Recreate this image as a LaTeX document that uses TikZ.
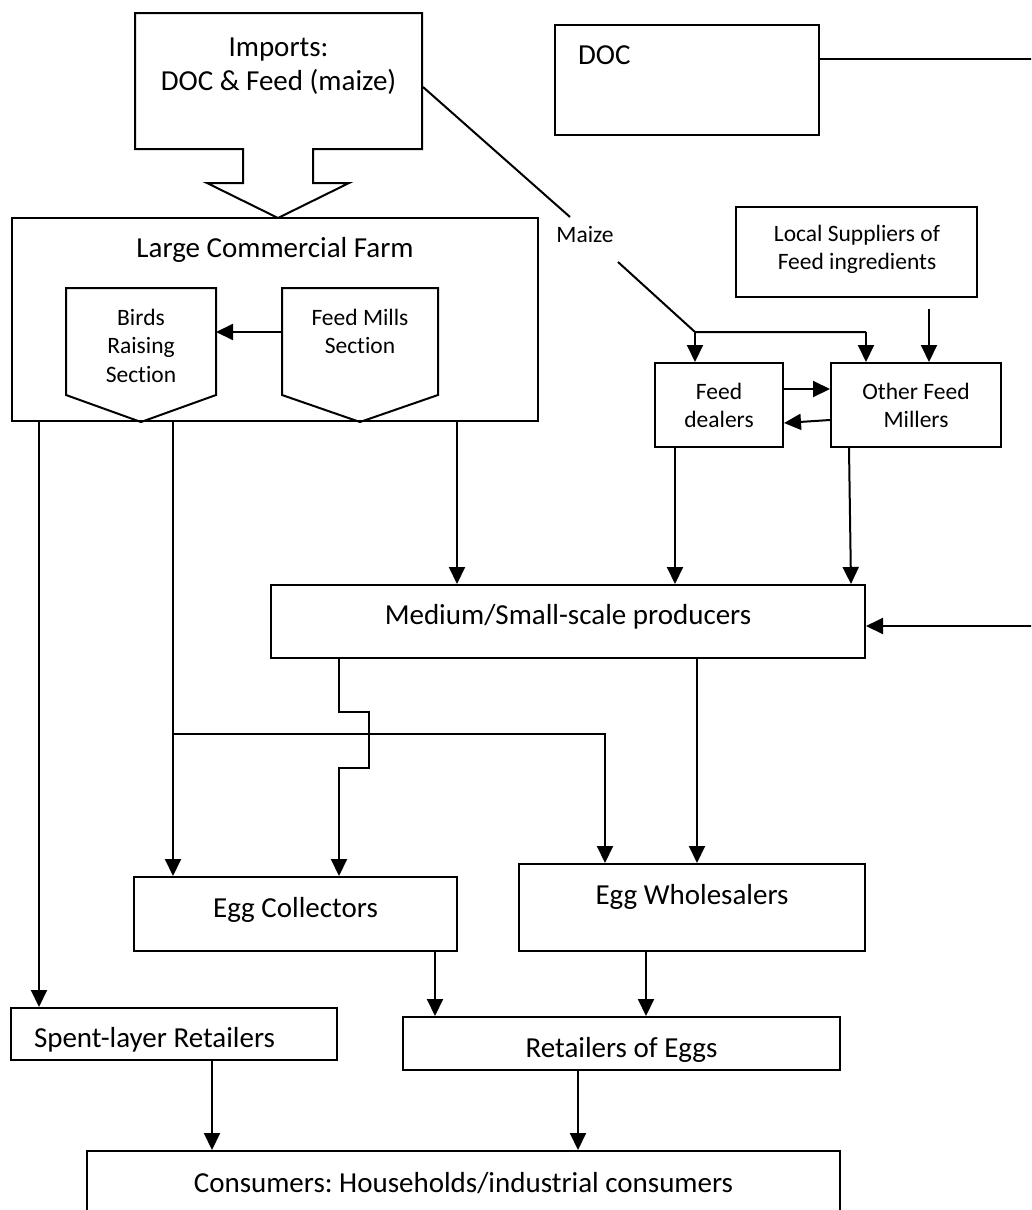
\documentclass[tikz,border=0pt]{standalone}
\usepackage{fontspec}
\setmainfont[Ligatures={NoCommon}]{Carlito}
\usetikzlibrary{arrows.meta,calc}
\newcommand{\mlines}[1]{\begin{tabular}[t]{@{}c@{}}#1\end{tabular}}
\begin{document}
\frenchspacing
\begin{tikzpicture}[x=1pt,y=-1pt,line width=2pt,
  box/.style={draw,line width=2pt,inner sep=0pt,rectangle},
  ghost/.style={inner sep=0pt,rectangle},
  big/.style={font=\fontsize{29}{34.5}\selectfont,inner sep=0pt,anchor=base},
  small/.style={font=\fontsize{23.5}{28.5}\selectfont,inner sep=0pt,anchor=base},
  arr/.style={-{Triangle[width=16pt,length=17pt]},line width=2pt},
  con/.style={line width=2pt}]
\useasboundingbox (0,0) rectangle (1031,1210);
\fill[white] (0,0) rectangle (1031,1210);
\clip (0,0) rectangle (1031,1210);

% Imports callout
\node[ghost,minimum width=287pt,minimum height=136pt] (imp) at (278.5,81) {};
\draw[con] (135,13) -- (422,13) -- (422,149) -- (313,149) -- (313,183) -- (349,183)
  -- (278,218) -- (207,183) -- (243,183) -- (243,149) -- (135,149) -- cycle;
\node[big] (imp-t) at (278.5,56) {\mlines{Imports:\\DOC \& Feed (maize)}};

% DOC
\node[box,minimum width=264pt,minimum height=110pt] (doc) at (687,80) {};
\node[big,anchor=base west] (doc-t) at (577,64) {DOC};

% Large commercial farm
\node[box,minimum width=526pt,minimum height=203pt] (farm) at (275,319.5) {};
\node[big] (farm-t) at (275,257) {Large Commercial Farm};
\node[ghost,minimum width=148pt,minimum height=105pt] (birds) at (141,341.5) {};
\draw[con] (birds.south west) -- (birds.north west) -- (birds.north east) -- (birds.south east)
  -- ($(birds.south)+(0,27)$) -- cycle;
\node[small] (birds-t) at (141,325) {\mlines{Birds\\Raising\\Section}};
\node[ghost,minimum width=154pt,minimum height=105pt] (fmill) at (360,341.5) {};
\draw[con] (fmill.south west) -- (fmill.north west) -- (fmill.north east) -- (fmill.south east)
  -- ($(fmill.south)+(0,27)$) -- cycle;
\node[small] (fmill-t) at (360,325) {\mlines{Feed Mills\\Section}};
\draw[arr] ([yshift=9.5pt]fmill.west) -- ([yshift=9.5pt]birds.east);

% Feed side
\node[box,minimum width=241pt,minimum height=90pt] (local) at (856.5,252) {};
\node[small] (local-t) at (857,241) {\mlines{Local Suppliers of\\Feed ingredients}};
\node[box,minimum width=128pt,minimum height=84pt] (fd) at (719,405) {};
\node[small] (fd-t) at (719,399) {\mlines{Feed\\dealers}};
\node[box,minimum width=170pt,minimum height=84pt] (ofm) at (916,405) {};
\node[small] (ofm-t) at (916,399) {\mlines{Other Feed\\Millers}};

% Maize line
\node[small] (maize) at (585,242) {Maize};
\coordinate (m1) at (570,217);
\coordinate (m2) at (618,262);
\coordinate (j) at (695,332);
\coordinate (j2) at (866,332);
\draw[con] ([yshift=-6pt]imp.east) -- (m1);
\draw[con] (m2) -- (j) -- (j2);
\draw[arr] (j) -- (j |- fd.north);
\draw[arr] (j2) -- (j2 |- ofm.north);
\coordinate (ls) at ($(local.south)+(72.5,11)$);
\draw[arr] (ls) -- (ls |- ofm.north);
\draw[arr] ([yshift=16pt]fd.east) -- ([yshift=16pt]ofm.west);
\draw[arr] ([yshift=-15pt]ofm.west) -- ([yshift=-18pt]fd.east);

% Medium producers
\node[box,minimum width=594pt,minimum height=73pt] (med) at (568,621.5) {};
\node[big] (med-t) at (568,624) {Medium/Small-scale producers};

% DOC connector
\coordinate (e1) at (1045,59);
\draw[arr] ([yshift=21pt]doc.east) -- (e1) |- ([yshift=-4.5pt]med.east);

% Down from farm / feed
\coordinate (f1) at ([xshift=-236pt]farm.south);
\coordinate (f2) at ([xshift=-102pt]farm.south);
\coordinate (f3) at ([xshift=182pt]farm.south);
\coordinate (d1) at ([xshift=-44pt]fd.south);
\coordinate (o1) at ([xshift=-67pt]ofm.south);
\draw[arr] (f3) -- (f3 |- med.north);
\draw[arr] (d1) -- (d1 |- med.north);
\draw[arr] (o1) -- ($(o1 |- med.north)+(2,0)$);

% Egg boxes
\node[box,minimum width=323pt,minimum height=74pt] (col) at (295.5,914) {};
\node[big] (col-t) at (295.5,917) {Egg Collectors};
\node[box,minimum width=346pt,minimum height=87pt] (whl) at (692,907.5) {};
\node[big] (whl-t) at (692,904) {Egg Wholesalers};

\draw[arr] (f2) -- (f2 |- col.north);
\coordinate (w1) at ([xshift=-87pt]whl.north);
\coordinate (w2) at ([xshift=5pt]whl.north);
\draw[arr] ($(f2)+(0,312)$) -| (w1);
\draw[arr] (w2 |- med.south) -- (w2);
\coordinate (ma) at ([xshift=-229pt]med.south);
\draw[arr] (ma) -- ++(0,53) -- ++(30,0) -- ++(0,56) -- ++(-30,0) -- (ma |- col.north);

% Retail level
\node[box,minimum width=326pt,minimum height=52pt] (spent) at (174,1034) {};
\node[big,anchor=base west] (spent-t) at (33,1047) {Spent-layer Retailers};
\node[box,minimum width=437pt,minimum height=53pt] (ret) at (621.5,1043.5) {};
\node[big] (ret-t) at (621.5,1057) {Retailers of Eggs};
\draw[arr] (f1) -- (f1 |- spent.north);
\coordinate (c1) at ([xshift=139.5pt]col.south);
\coordinate (h1) at ([xshift=-46pt]whl.south);
\draw[arr] (c1) -- (c1 |- ret.north);
\draw[arr] (h1) -- (h1 |- ret.north);

% Consumers
\node[box,minimum width=753pt,minimum height=69pt] (cons) at (463.5,1185.5) {};
\node[big] (cons-t) at (463.5,1192) {Consumers: Households/industrial consumers};
\coordinate (s1) at ([xshift=38pt]spent.south);
\coordinate (r1) at ([xshift=-43.5pt]ret.south);
\draw[arr] (s1) -- (s1 |- cons.north);
\draw[arr] (r1) -- (r1 |- cons.north);
\end{tikzpicture}
\end{document}
